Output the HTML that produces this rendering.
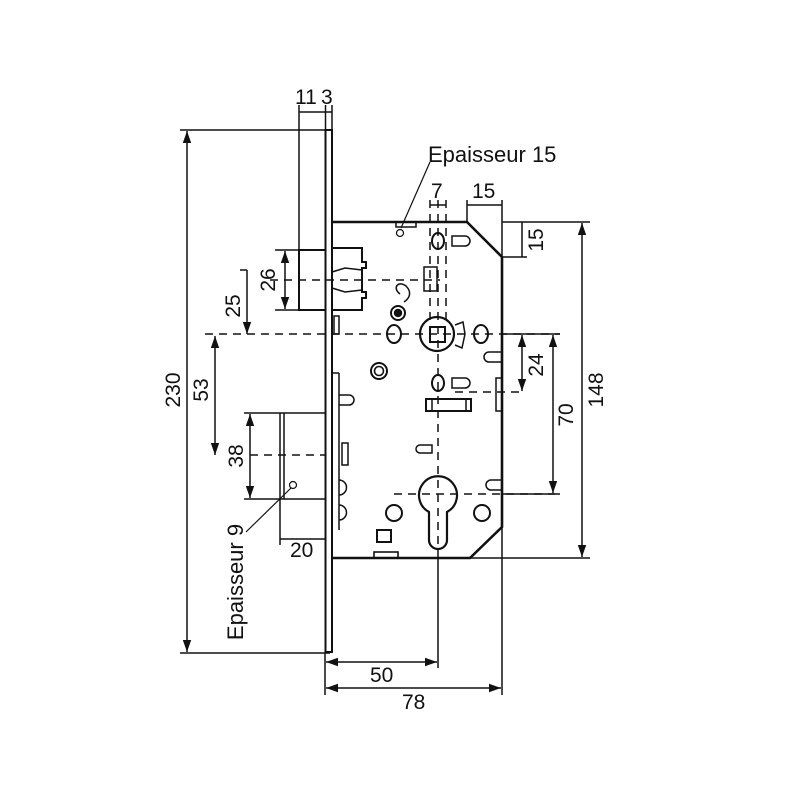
<!DOCTYPE html>
<html><head><meta charset="utf-8"><style>
html,body{margin:0;padding:0;background:#fff}
svg{display:block}
text{font-family:"Liberation Sans",Arial,sans-serif;fill:#111}
</style></head><body>
<svg width="800" height="800" viewBox="0 0 800 800" xmlns="http://www.w3.org/2000/svg">
<defs>
<marker id="a" viewBox="0 0 10 10" refX="10" refY="5" markerWidth="14" markerHeight="12" markerUnits="userSpaceOnUse" orient="auto-start-reverse" >
<path d="M0,1.5 L10,5 L0,8.5 z" fill="#111"/></marker>
<marker id="b" viewBox="0 0 10 10" refX="10" refY="5" markerWidth="16" markerHeight="12" markerUnits="userSpaceOnUse" orient="auto-start-reverse" >
<path d="M0,1.5 L10,5 L0,8.5 z" fill="#111"/></marker>
</defs>
<g stroke="#111" fill="none" stroke-width="1.5">
<rect x="325.5" y="130" width="6.5" height="522" stroke-width="2"/>
<line x1="299" y1="105" x2="299" y2="250"/>
<line x1="325.5" y1="105" x2="325.5" y2="130"/>
<line x1="332" y1="105" x2="332" y2="130"/>
<line x1="299" y1="112" x2="332" y2="112"/>
<line x1="180" y1="130" x2="326" y2="130"/>
<line x1="180" y1="653" x2="330" y2="653"/>
<line x1="187" y1="131" x2="187" y2="652" marker-start="url(#b)" marker-end="url(#b)"/>
<path d="M332,222 L467,222 L502,257 L502,527 L470,558 L332,558" stroke-width="2.6"/>
<rect x="299" y="250" width="26.5" height="60" stroke-width="2"/>
<path d="M332,248 L362,248 L362,262 L366,262 L366,268 L362,268 L362,292 L366,292 L366,298 L362,298 L362,310 L332,310" stroke-width="2"/>
<path d="M332,272 L345,268 L362,270 M332,288 L345,292 L362,290"/>
<rect x="334" y="316" width="5" height="18"/>
<line x1="275" y1="250" x2="299" y2="250"/>
<line x1="275" y1="310" x2="299" y2="310"/>
<line x1="285" y1="251" x2="285" y2="309" marker-start="url(#a)" marker-end="url(#a)"/>
<line x1="247" y1="270" x2="247" y2="334" marker-end="url(#a)"/>
<line x1="240" y1="270" x2="247" y2="270"/>
<g stroke-dasharray="8,6">
<line x1="205" y1="334" x2="560" y2="334"/>
<line x1="270" y1="280" x2="440" y2="280"/>
<line x1="394" y1="494" x2="555" y2="494"/>
<line x1="438" y1="200" x2="438" y2="560"/>
<line x1="430" y1="200" x2="430" y2="320"/>
<line x1="446" y1="200" x2="446" y2="320"/>
<line x1="250" y1="455" x2="326" y2="455"/>
<line x1="455" y1="392" x2="525" y2="392"/>
</g>
<line x1="215" y1="336" x2="215" y2="455" marker-start="url(#a)" marker-end="url(#a)"/>
<line x1="244" y1="413" x2="325" y2="413"/>
<line x1="244" y1="499" x2="325" y2="499"/>
<line x1="280" y1="413" x2="280" y2="545"/>
<line x1="284" y1="413" x2="284" y2="499"/>
<line x1="250" y1="414" x2="250" y2="498" marker-start="url(#a)" marker-end="url(#a)"/>
<line x1="280" y1="539" x2="325" y2="539"/>
<circle cx="293" cy="485" r="3.5" stroke-width="1.2"/>
<line x1="246" y1="532" x2="291" y2="488" stroke-width="1.2"/>
<line x1="430" y1="162" x2="401" y2="228" stroke-width="1.2"/>
<circle cx="400" cy="233" r="3.5" stroke-width="1.2"/>
<rect x="396" y="222" width="20" height="5"/>
<line x1="467" y1="200" x2="467" y2="222"/>
<line x1="502" y1="200" x2="502" y2="257"/>
<line x1="430" y1="205" x2="446" y2="205"/>
<line x1="467" y1="205" x2="502" y2="205"/>
<line x1="502" y1="222" x2="590" y2="222"/>
<line x1="502" y1="257" x2="527" y2="257"/>
<line x1="522" y1="222" x2="522" y2="257"/>
<line x1="470" y1="558" x2="590" y2="558"/>
<line x1="582" y1="223" x2="582" y2="557" marker-start="url(#b)" marker-end="url(#b)"/>
<line x1="502" y1="334" x2="560" y2="334"/>
<line x1="502" y1="494" x2="560" y2="494"/>
<line x1="522" y1="335" x2="522" y2="391" marker-start="url(#a)" marker-end="url(#a)"/>
<line x1="553" y1="335" x2="553" y2="493" marker-start="url(#a)" marker-end="url(#a)"/>
<rect x="496" y="378" width="6" height="33"/>
<line x1="325" y1="653" x2="325" y2="695"/>
<line x1="438" y1="558" x2="438" y2="668"/>
<line x1="502" y1="527" x2="502" y2="695"/>
<line x1="326" y1="662" x2="437" y2="662" marker-start="url(#b)" marker-end="url(#b)"/>
<line x1="326" y1="688" x2="501" y2="688" marker-start="url(#b)" marker-end="url(#b)"/>
<ellipse cx="438" cy="241" rx="6" ry="8" stroke-width="2"/>
<path d="M452,236 L465,236 A5,5 0 0 1 465,246 L452,246 Z"/>
<rect x="424" y="267" width="13" height="24"/>
<path d="M400,294 C392,288 398,280 406,286 C412,292 410,298 404,302"/>
<circle cx="398" cy="313" r="7" stroke-width="2"/>
<circle cx="398" cy="313" r="3.5" fill="#111"/>
<circle cx="437" cy="334" r="17" stroke-width="2.2"/>
<rect x="430" y="327" width="15" height="15" stroke-width="2"/>
<path d="M455,325 L463,322 L465,334 L462,348 L455,345"/>
<ellipse cx="394" cy="334" rx="7" ry="9" stroke-width="2"/>
<ellipse cx="481" cy="334" rx="7" ry="9" stroke-width="2"/>
<path d="M502,352 L489,352 A5,5 0 0 0 489,362 L502,362"/>
<circle cx="379" cy="371" r="8" stroke-width="2"/>
<circle cx="379" cy="371" r="4.5" stroke-width="1.6"/>
<ellipse cx="438" cy="383" rx="6" ry="8" stroke-width="2"/>
<path d="M452,378 L465,378 A5,5 0 0 1 465,388 L452,388 Z"/>
<rect x="426" y="399" width="45" height="12" stroke-width="2"/>
<line x1="432" y1="399" x2="432" y2="411"/><line x1="466" y1="399" x2="466" y2="411"/>
<path d="M339,373 L339,530 M332,373 L339,373"/>
<path d="M339,395 L349,395 A5,5 0 0 1 349,405 L339,405"/>
<rect x="342" y="443" width="6" height="22"/>
<path d="M339,480 A6,6 0 0 1 339,495 M339,505 A6,6 0 0 1 339,520"/>
<path d="M420,445 L432,445 L432,453 L420,453 A4,4 0 0 1 420,445 Z"/>
<path d="M502,480 L491,480 A5,5 0 0 0 491,490 L502,490"/>
<path d="M429,512 A19,19 0 1 1 447,512 L447,540 A9,9 0 0 1 429,540 Z" stroke-width="2.2"/>
<circle cx="394" cy="513" r="8" stroke-width="2"/>
<circle cx="482" cy="513" r="8" stroke-width="2"/>
<rect x="377" y="530" width="14" height="12" stroke-width="2"/>
<rect x="374" y="552" width="24" height="6" stroke-width="1.6"/>
</g>
<g font-size="21">
<text x="295" y="104">11</text>
<text x="321" y="104">3</text>
<text x="428" y="162" font-size="22">Epaisseur 15</text>
<text x="431" y="198">7</text>
<text x="472" y="198">15</text>
<text transform="translate(543,240) rotate(-90)" text-anchor="middle">15</text>
<text transform="translate(543,365) rotate(-90)" text-anchor="middle">24</text>
<text transform="translate(573,415) rotate(-90)" text-anchor="middle">70</text>
<text transform="translate(603,390) rotate(-90)" text-anchor="middle">148</text>
<text transform="translate(180,390) rotate(-90)" text-anchor="middle">230</text>
<text transform="translate(275,280) rotate(-90)" text-anchor="middle">26</text>
<text transform="translate(240,306) rotate(-90)" text-anchor="middle">25</text>
<text transform="translate(208,390) rotate(-90)" text-anchor="middle">53</text>
<text transform="translate(243,456) rotate(-90)" text-anchor="middle">38</text>
<text transform="translate(243,582) rotate(-90)" text-anchor="middle" font-size="22">Epaisseur 9</text>
<text x="290" y="557">20</text>
<text x="370" y="682">50</text>
<text x="402" y="709">78</text>
</g>
</svg>
</body></html>
